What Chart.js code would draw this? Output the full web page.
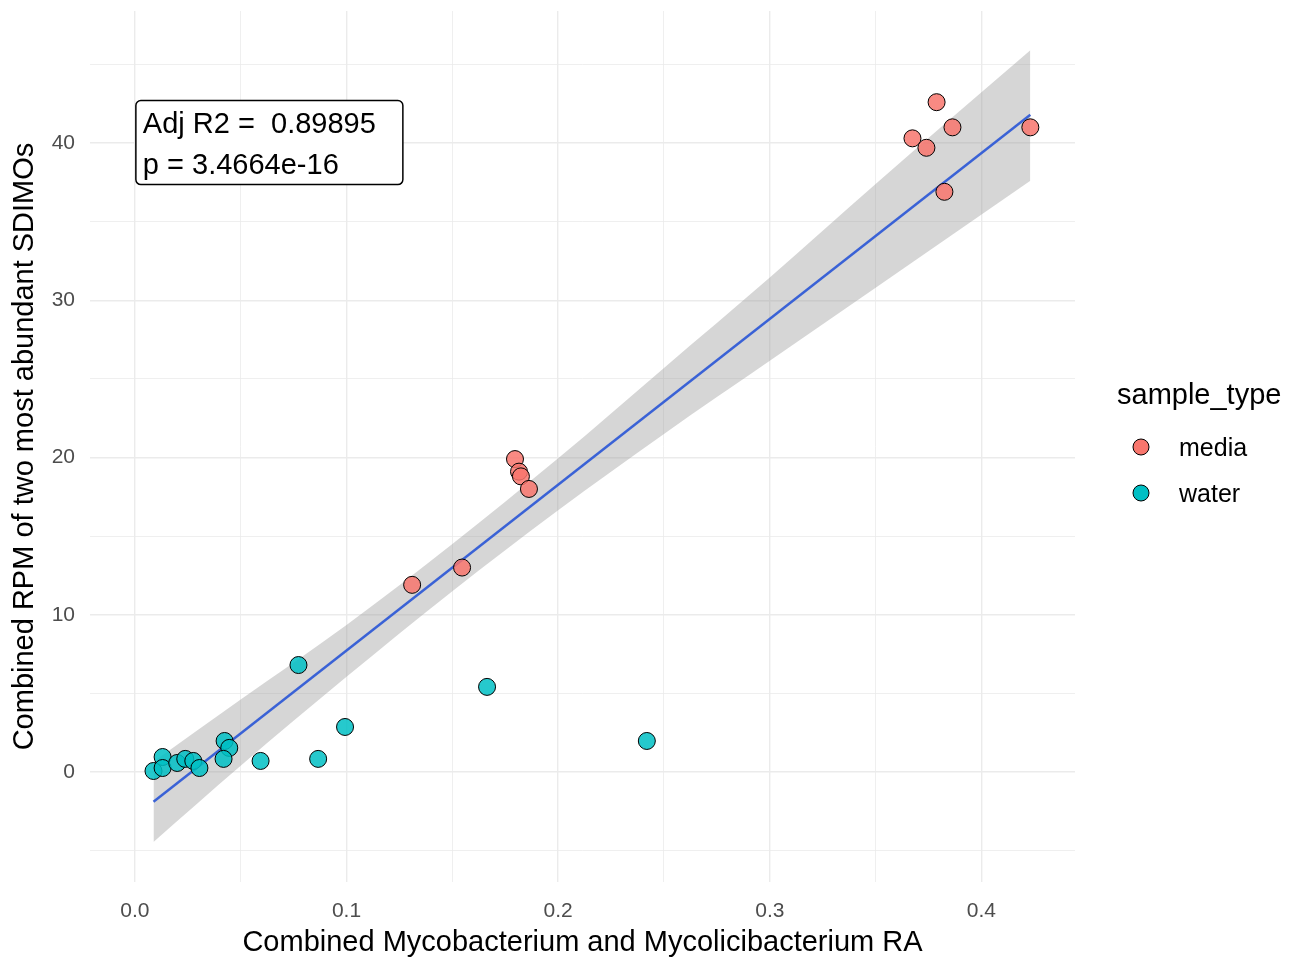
<!DOCTYPE html>
<html>
<head>
  <meta charset="UTF-8" />
  <title>RPM vs RA</title>
  <script src="https://cdn.jsdelivr.net/npm/chart.js"></script>
  <style>
    body { margin: 0; background: white; }
    canvas { display: block; }
  </style>
</head>
<body>
  <canvas id="chart" width="1301" height="963"></canvas>

  <script>
    // media points
    const mediaX = [0.3788, 0.3674, 0.3740, 0.3863, 0.3825, 0.4231, 0.1796, 0.1815, 0.1824, 0.1862, 0.1310, 0.1546];
    const mediaY = [42.6, 40.3, 39.7, 41.0, 36.9, 41.0, 19.9, 19.1, 18.8, 18.0, 11.9, 13.0];

    // water points
    const waterX = [0.0993, 0.0424, 0.0446, 0.0419, 0.0594, 0.0866, 0.0131, 0.0088, 0.0131, 0.0200, 0.0238, 0.0276, 0.0305, 0.0773, 0.1664, 0.2419];
    const waterY = [2.86, 1.97, 1.53, 0.83, 0.70, 0.83, 0.95, 0.06, 0.25, 0.57, 0.83, 0.70, 0.25, 6.80, 5.41, 1.97];

    // lm fit and its confidence band, read at a few x positions
    const fitX = [0.0088, 0.05, 0.1, 0.15, 0.2, 0.25, 0.3, 0.35, 0.4231];
    const fitY = [-1.9, 2.5, 7.7, 13.0, 18.3, 23.6, 28.8, 34.1, 41.8];
    const bandLow = [-4.45, 0.4, 6.05, 11.5, 16.65, 21.5, 26.15, 30.8, 37.6];
    const bandHigh = [0.65, 4.6, 9.35, 14.5, 19.95, 25.7, 31.45, 37.4, 45.9];

    // grid / tick positions
    const xTicks = [0, 0.05, 0.1, 0.15, 0.2, 0.25, 0.3, 0.35, 0.4];
    const yTicks = [-5, 0, 5, 10, 15, 20, 25, 30, 35, 40, 45];

    const statLines = ['Adj R2 =  0.89895', 'p = 3.4664e-16'];
    const legendTitle = 'sample_type';
    const legendItems = [
      { label: 'media', color: '#F8766D' },
      { label: 'water', color: '#00BFC4' }
    ];

    const FONT = '"Liberation Sans", Arial, sans-serif';

    const toPts = (xs, ys) => xs.map((x, i) => ({ x: x, y: ys[i] }));

    const isMajor = (v, step) => Math.abs(Math.round(v / step) * step - v) < 1e-9;

    // annotation box + legend drawn on canvas
    const extras = {
      id: 'extras',
      afterDraw(chart) {
        const ctx = chart.ctx;
        const xs = chart.scales.x, ys = chart.scales.y;

        // stat label box
        const bx = xs.getPixelForValue(0) + 1;
        const by = ys.getPixelForValue(42.7);
        const bw = 267, bh = 84, r = 5;
        ctx.save();
        ctx.fillStyle = 'white';
        ctx.strokeStyle = 'black';
        ctx.lineWidth = 1.5;
        ctx.beginPath();
        ctx.roundRect(bx, by, bw, bh, r);
        ctx.fill();
        ctx.stroke();
        ctx.fillStyle = 'black';
        ctx.font = '29px ' + FONT;
        ctx.textBaseline = 'middle';
        ctx.textAlign = 'left';
        ctx.fillText(statLines[0], bx + 7, by + 24);
        ctx.fillText(statLines[1], bx + 7, by + 65);

        // legend
        ctx.font = '29px ' + FONT;
        ctx.fillText(legendTitle, 1117, 396);
        ctx.font = '25px ' + FONT;
        legendItems.forEach((it, i) => {
          const cy = 447 + i * 46;
          ctx.beginPath();
          ctx.arc(1141, cy, 8, 0, Math.PI * 2);
          ctx.fillStyle = it.color;
          ctx.fill();
          ctx.lineWidth = 1;
          ctx.strokeStyle = 'black';
          ctx.stroke();
          ctx.fillStyle = 'black';
          ctx.fillText(it.label, 1179, cy + 2);
        });
        ctx.restore();
      }
    };

    const noPad = scale => {
      scale.paddingTop = 0;
      scale.paddingBottom = 0;
      scale.paddingLeft = 0;
      scale.paddingRight = 0;
    };

    const ctx = document.getElementById('chart').getContext('2d');
    new Chart(ctx, {
      type: 'scatter',
      data: {
        datasets: [
          {
            type: 'line',
            data: toPts(fitX, bandHigh),
            borderWidth: 0,
            pointRadius: 0,
            backgroundColor: 'rgba(153,153,153,0.4)',
            fill: '+1',
            cubicInterpolationMode: 'monotone',
            order: 3
          },
          {
            type: 'line',
            data: toPts(fitX, bandLow),
            borderWidth: 0,
            pointRadius: 0,
            fill: false,
            cubicInterpolationMode: 'monotone',
            order: 3
          },
          {
            type: 'line',
            data: toPts([fitX[0], fitX[fitX.length - 1]], [fitY[0], fitY[fitY.length - 1]]),
            borderColor: '#3A62D6',
            borderWidth: 2.5,
            pointRadius: 0,
            fill: false,
            order: 2
          },
          {
            label: 'media',
            data: toPts(mediaX, mediaY),
            backgroundColor: 'rgba(248,118,109,0.85)',
            borderColor: 'black',
            borderWidth: 1,
            pointRadius: 8.5,
            order: 1
          },
          {
            label: 'water',
            data: toPts(waterX, waterY),
            backgroundColor: 'rgba(0,191,196,0.85)',
            borderColor: 'black',
            borderWidth: 1,
            pointRadius: 8.5,
            order: 0
          }
        ]
      },
      options: {
        responsive: false,
        animation: false,
        layout: { padding: { left: 0, right: 226, top: 11, bottom: 0 } },
        plugins: {
          legend: { display: false },
          tooltip: { enabled: false }
        },
        scales: {
          x: {
            type: 'linear',
            min: -0.0212,
            max: 0.4442,
            border: { display: false },
            afterFit(scale) { scale.height = 81; noPad(scale); },
            afterBuildTicks(scale) { scale.ticks = xTicks.map(v => ({ value: v })); },
            grid: {
              drawTicks: false,
              color: '#EBEBEB',
              lineWidth: c => isMajor(c.tick.value, 0.1) ? 1.4 : 0.8
            },
            ticks: {
              padding: 17,
              color: '#4D4D4D',
              font: { family: FONT, size: 21 },
              callback: v => isMajor(v, 0.1) ? v.toFixed(1) : ''
            },
            title: {
              display: true,
              text: 'Combined Mycobacterium and Mycolicibacterium RA',
              color: 'black',
              font: { family: FONT, size: 29 },
              padding: { top: 0, bottom: 3 }
            }
          },
          y: {
            type: 'linear',
            min: -7.0,
            max: 48.4,
            border: { display: false },
            afterFit(scale) { scale.width = 90; noPad(scale); },
            afterBuildTicks(scale) { scale.ticks = yTicks.map(v => ({ value: v })); },
            grid: {
              drawTicks: false,
              color: '#EBEBEB',
              lineWidth: c => isMajor(c.tick.value, 10) ? 1.4 : 0.8
            },
            ticks: {
              padding: 15,
              color: '#4D4D4D',
              font: { family: FONT, size: 21 },
              callback: v => isMajor(v, 10) ? String(v) : ''
            },
            title: {
              display: true,
              text: 'Combined RPM of two most abundant SDIMOs',
              color: 'black',
              font: { family: FONT, size: 29 },
              padding: { top: 8, bottom: 0 }
            }
          }
        }
      },
      plugins: [extras]
    });
  </script>
</body>
</html>
